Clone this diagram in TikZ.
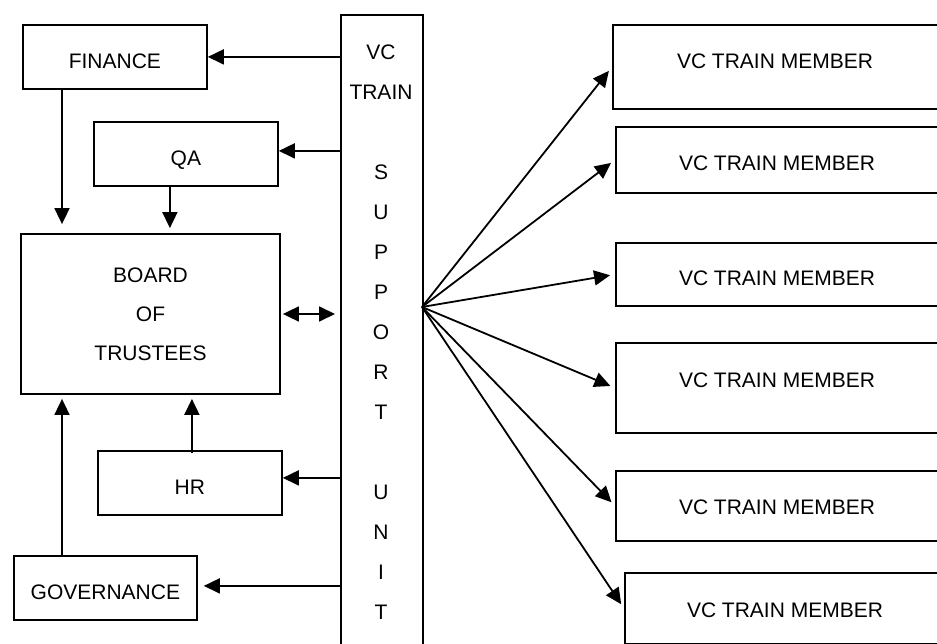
\documentclass[tikz,border=0pt]{standalone}
\usepackage{fontspec}
\setmainfont{Liberation Sans}
\usetikzlibrary{arrows.meta}
\begin{document}
\begin{tikzpicture}[x=1pt,y=-1pt,
  lw/.style={line width=1.8pt},
  box/.style={draw, lw, inner sep=0pt, anchor=north west, font=\fontsize{21}{25}\selectfont},
  lbox/.style={box, text height=23pt, text depth=0pt},
  lbl/.style={inner sep=0pt, font=\fontsize{21}{25}\selectfont},
  arr/.style={lw, -{Triangle[length=16pt,width=15pt]}},
  darr/.style={lw, {Triangle[length=16pt,width=15pt]}-{Triangle[length=16pt,width=15pt]}}]
\useasboundingbox (0,0) rectangle (937,644);
\clip (0,0) rectangle (937,644);

% left boxes
\node[lbox, minimum width=184pt, minimum height=64pt] (fin) at (22,24) {FINANCE};
\node[lbox, minimum width=184pt, minimum height=64pt] (qa) at (93,121) {QA};
\node[box, anchor=center, minimum width=259pt, minimum height=160pt, align=center,
      font=\fontsize{21}{39}\selectfont] (board) at (150.5,314) {BOARD\\OF\\TRUSTEES};
\node[lbox, minimum width=184pt, minimum height=64pt] (hr) at (97,450) {HR};
\node[lbox, minimum width=183pt, minimum height=64pt] (gov) at (13,555) {GOVERNANCE};

% support unit
\node[box, minimum width=82pt, minimum height=660pt] (su) at (340,14) {};
\node[lbl, align=center, font=\fontsize{21}{40}\selectfont] (sut) at (381,332)
  {VC\\TRAIN\\[40pt]S\\U\\P\\P\\O\\R\\T\\[40pt]U\\N\\I\\T};

% right boxes
\node[box, minimum width=360pt, minimum height=84pt] (m1) at (612,24) {};
\node[box, minimum width=360pt, minimum height=66pt] (m2) at (615,126) {};
\node[box, minimum width=360pt, minimum height=63pt] (m3) at (615,242) {};
\node[box, minimum width=360pt, minimum height=90pt] (m4) at (615,342) {};
\node[box, minimum width=360pt, minimum height=70pt] (m5) at (615,470) {};
\node[box, minimum width=360pt, minimum height=71pt] (m6) at (624,572) {};
\node[lbl] (t1) at (775,61) {VC TRAIN MEMBER};
\node[lbl] (t2) at (777,163) {VC TRAIN MEMBER};
\node[lbl] (t3) at (777,278) {VC TRAIN MEMBER};
\node[lbl] (t4) at (777,380) {VC TRAIN MEMBER};
\node[lbl] (t5) at (777,507) {VC TRAIN MEMBER};
\node[lbl] (t6) at (785,610) {VC TRAIN MEMBER};

% support -> left boxes
\draw[arr] (fin.east -| su.west) -- (fin.east);
\draw[arr] ([yshift=3pt]qa.east -| su.west) -- ([yshift=3pt]qa.east);
\draw[arr] ([yshift=5pt]hr.east -| su.west) -- ([yshift=5pt]hr.east);
\draw[arr, shorten >=6pt] ([yshift=2pt]gov.east -| su.west) -- ([yshift=2pt]gov.east);
\draw[darr, shorten <=2pt, shorten >=5pt] (board.east) -- (board.east -| su.west);

% vertical arrows to board
\draw[arr, shorten >=9pt] ([xshift=40pt]fin.south west) -- ([xshift=40pt]fin.south west |- board.north);
\draw[arr, shorten >=5pt] ([xshift=-16pt]qa.south) -- ([xshift=-16pt]qa.south |- board.north);
\draw[arr, shorten >=4pt] ([xshift=49pt]gov.north west) -- ([xshift=49pt]gov.north west |- board.south);
\draw[arr, shorten <=-3pt, shorten >=4pt] ([xshift=2pt]hr.north) -- ([xshift=2pt]hr.north |- board.south);

% fan to members
\coordinate (fan) at (422,307);
\foreach \m in {m1,m2,m3,m4,m5,m6}
  \draw[arr, shorten >=5pt] (fan) -- (\m.west);
\end{tikzpicture}
\end{document}
